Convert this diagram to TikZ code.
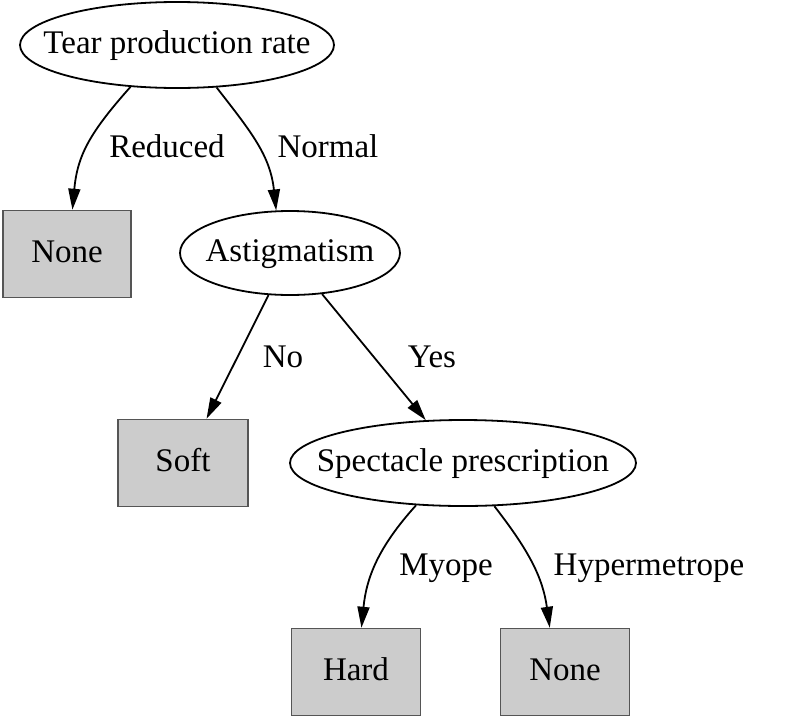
\documentclass[tikz,border=0pt]{standalone}
\usepackage{fontspec}
\setmainfont{Liberation Serif}
\usetikzlibrary{shapes.geometric,arrows.meta}
\definecolor{leafgray}{RGB}{204,204,204}
\definecolor{leafline}{RGB}{85,85,85}
\begin{document}
\begin{tikzpicture}[x=1pt,y=-1pt,
        font=\fontsize{33}{40}\selectfont,
        test/.style={ellipse,draw,line width=1.8pt,inner sep=0pt,text height=22pt,text depth=6pt},
        leaf/.style={rectangle,draw=leafline,fill=leafgray,line width=1.5pt,minimum width=128pt,minimum height=87pt,inner sep=0pt,text height=22pt,text depth=6pt},
        branch/.style={line width=1.8pt,-{Triangle[length=21pt,width=12pt]}},
        lbl/.style={anchor=base}]
        % 边界
        \useasboundingbox (0,0) rectangle (786,718);

        % 定义结点
        \node[test,minimum width=314pt,minimum height=86pt] (tear) at (177,45) {\makebox[0pt]{Tear production rate}};
        \node[leaf] (none1) at (67,254) {None};
        \node[test,minimum width=220pt,minimum height=84pt] (astig) at (290,253) {\makebox[0pt]{Astigmatism}};
        \node[leaf,minimum width=130pt] (soft) at (183,463) {Soft};
        \node[test,minimum width=346pt,minimum height=86pt] (spec) at (463,463) {\makebox[0pt]{Spectacle prescription}};
        \node[leaf,minimum width=129pt] (hard) at (356,672) {Hard};
        \node[leaf,minimum width=129pt] (none2) at (565,672) {None};

        % 绘制分支
        \draw[branch] (tear.222) .. controls +(-40,45) and +(5,-55) .. (none1.83);
        \draw[branch] (tear.313) .. controls +(35,45) and +(-6,-55) .. (astig.108);
        \draw[branch] (astig.243) -- (soft.62);
        \draw[branch] (astig.308) -- (spec.131);
        \draw[branch] (spec.222) .. controls +(-38,42) and +(5,-50) .. (hard.83);
        \draw[branch] (spec.306) .. controls +(35,45) and +(-7,-50) .. (none2.109);

        % 分支标签
        \node[lbl] (reduced) at (167,157) {Reduced};
        \node[lbl] (normal) at (328,157) {Normal};
        \node[lbl] (no) at (283,367) {No};
        \node[lbl] (yes) at (432,367) {Yes};
        \node[lbl] (myope) at (446,575) {Myope};
        \node[lbl] (hyper) at (649,575) {Hypermetrope};
    \end{tikzpicture}
\end{document}
